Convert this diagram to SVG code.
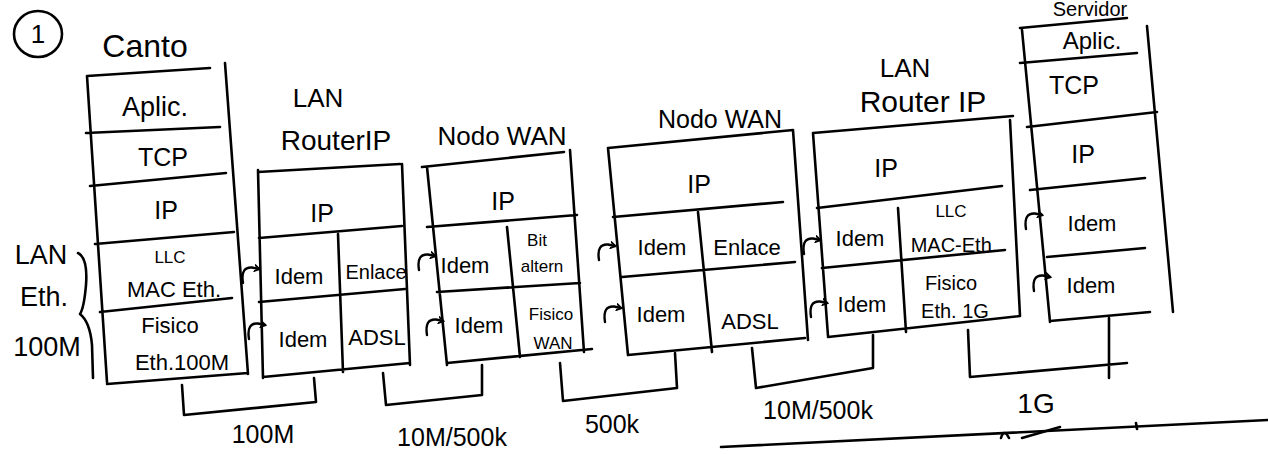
<svg xmlns="http://www.w3.org/2000/svg" xmlns:xlink="http://www.w3.org/1999/xlink" width="1268" height="455" viewBox="0 0 1268 455">
<style>
.ln{fill:none;stroke:#000;stroke-width:2.6;stroke-linecap:round;stroke-linejoin:round}
.t{font-family:"Liberation Sans","DejaVu Sans",sans-serif;fill:#000;text-anchor:middle;font-size:22px}
.s{font-size:17px}
.m{font-size:20px}
.b{font-size:25px}
.lb{font-size:26px}
.hk{fill:none;stroke:#000;stroke-width:2.4;stroke-linecap:round;marker-end:url(#ah)}
</style>
<defs>
<marker id="ah" markerWidth="8" markerHeight="8" refX="5" refY="4" orient="auto" markerUnits="userSpaceOnUse">
<path d="M0,0.5 L5.5,4 L0,7.5" fill="none" stroke="#000" stroke-width="1.8"/>
</marker>
<path id="hook" class="hk" d="M1,17 C-1,5 3,1 10,1.5 L17,3"/>
</defs>
<rect width="1268" height="455" fill="#fff"/>

<g id="title">
<ellipse class="ln" cx="38" cy="34" rx="24" ry="23"/>
<text class="t" x="38" y="43" style="font-size:26px">1</text>
</g>

<g id="lan-eth-label">
<text class="t lb" x="41" y="264" style="font-size:27px">LAN</text>
<text class="t lb" x="44" y="306" style="font-size:27px">Eth.</text>
<text class="t lb" x="47" y="356" style="font-size:27px">100M</text>
<path class="ln" d="M78,253 Q88,258 86,285 Q84,308 80,314 Q90,322 92,345 L93,378"/>
</g>

<g id="node-canto">
<text class="t" x="145" y="57" style="font-size:32px">Canto</text>
<path class="ln" d="M87,76 L210,68 M87,76 L107,382 M225,63 L248,374 M107,384 L248,373 M86,133 L220,127 M90,186 L226,173 M95,244 L234,232 M100,312 L232,298"/>
<text class="t" x="155" y="116" style="font-size:27px">Aplic.</text>
<text class="t b" x="163" y="166">TCP</text>
<text class="t b" x="166" y="219">IP</text>
<text class="t s" x="170" y="263">LLC</text>
<text class="t" x="174" y="297">MAC Eth.</text>
<text class="t" x="170" y="333">Fisico</text>
<text class="t" x="182" y="370">Eth.100M</text>
</g>

<g id="node-router1">
<text class="t lb" x="318" y="107">LAN</text>
<text class="t" x="336" y="150" style="font-size:28px">RouterIP</text>
<path class="ln" d="M258,172 L400,164 M258,170 L263,378 M402,164 L410,365 M263,377 L410,363 M259,238 L402,226 M338,234 L343,372 M259,302 L405,289"/>
<text class="t b" x="322" y="222">IP</text>
<text class="t" x="299" y="284">Idem</text>
<text class="t m" x="376" y="279">Enlace</text>
<text class="t" x="303" y="347">Idem</text>
<text class="t" x="377" y="345">ADSL</text>
</g>

<g id="node-wan1">
<text class="t lb" x="502" y="145">Nodo WAN</text>
<path class="ln" d="M422,167 L564,152 M427,167 L447,365 M570,150 L584,352 M447,363 L592,349 M427,227 L577,215 M507,227 L520,357 M437,292 L580,283"/>
<text class="t b" x="503" y="210">IP</text>
<text class="t" x="465" y="273">Idem</text>
<text class="t s" x="537" y="246">Bit</text>
<text class="t s" x="542" y="272">altern</text>
<text class="t" x="479" y="333">Idem</text>
<text class="t s" x="551" y="320">Fisico</text>
<text class="t s" x="553" y="349">WAN</text>
</g>

<g id="node-wan2">
<text class="t b" x="720" y="128">Nodo WAN</text>
<path class="ln" d="M608,148 L793,130 M608,148 L628,355 M793,130 L808,340 M628,355 L805,338 M613,217 L783,202 M698,212 L712,352 M622,277 L795,262"/>
<text class="t b" x="699" y="193">IP</text>
<text class="t" x="662" y="255">Idem</text>
<text class="t" x="747" y="255">Enlace</text>
<text class="t" x="661" y="322">Idem</text>
<text class="t" x="750" y="329">ADSL</text>
</g>

<g id="node-router2">
<text class="t lb" x="905" y="77">LAN</text>
<text class="t" x="923" y="112" style="font-size:30px">Router IP</text>
<path class="ln" d="M813,133 L1013,116 M813,133 L828,336 M1010,120 L1020,316 M828,337 L1020,316 M817,208 L1002,186 M898,208 L906,332 M822,268 L1005,250"/>
<text class="t b" x="886" y="177">IP</text>
<text class="t" x="860" y="246">Idem</text>
<text class="t s" x="951" y="217">LLC</text>
<text class="t m" x="954" y="252">MAC-Eth.</text>
<text class="t" x="862" y="312">Idem</text>
<text class="t m" x="951" y="290">Fisico</text>
<text class="t m" x="955" y="318">Eth. 1G</text>
</g>

<g id="node-servidor">
<text class="t" x="1090" y="16" style="font-size:20px">Servidor</text>
<path class="ln" d="M1020,28 L1127,18 M1022,30 L1050,322 M1147,26 L1173,312 M1050,321 L1150,312 M1020,63 L1137,53 M1027,127 L1157,112 M1030,190 L1145,178 M1047,257 L1145,248"/>
<text class="t" x="1092" y="49" style="font-size:24px">Aplic.</text>
<text class="t b" x="1074" y="94">TCP</text>
<text class="t b" x="1083" y="163">IP</text>
<text class="t" x="1092" y="231">Idem</text>
<text class="t" x="1091" y="293">Idem</text>
</g>

<g id="connectors">
<use xlink:href="#hook" href="#hook" transform="translate(242,266)"/>
<use xlink:href="#hook" href="#hook" transform="translate(248,322)"/>
<use xlink:href="#hook" href="#hook" transform="translate(418,253)"/>
<use xlink:href="#hook" href="#hook" transform="translate(426,318)"/>
<use xlink:href="#hook" href="#hook" transform="translate(598,243)"/>
<use xlink:href="#hook" href="#hook" transform="translate(604,305)"/>
<use xlink:href="#hook" href="#hook" transform="translate(803,237)"/>
<use xlink:href="#hook" href="#hook" transform="translate(810,300)"/>
<use xlink:href="#hook" href="#hook" transform="translate(1025,212)"/>
<use xlink:href="#hook" href="#hook" transform="translate(1033,274)"/>
<path class="ln" d="M182,385 L184,415 L316,402 L314,378"/>
<path class="ln" d="M383,373 L386,405 L482,395 L482,365"/>
<path class="ln" d="M560,363 L563,401 L677,388 L675,353"/>
<path class="ln" d="M752,348 L756,388 L873,368 L873,335"/>
<path class="ln" d="M968,330 L970,377 L1127,363 M1109,318 L1109,378"/>
<path class="ln" d="M721,447 L1268,420" stroke-width="1.8"/>
<path class="ln" d="M1001,438 Q1004,428 1009,438 M1022,438 L1060,427 M1136,423 L1137,429" stroke-width="1.8"/>
</g>

<g id="link-labels">
<text class="t b" x="263" y="443">100M</text>
<text class="t b" x="452" y="446">10M/500k</text>
<text class="t b" x="612" y="433">500k</text>
<text class="t b" x="818" y="419">10M/500k</text>
<text class="t" x="1036" y="413" style="font-size:28px">1G</text>
</g>
</svg>
